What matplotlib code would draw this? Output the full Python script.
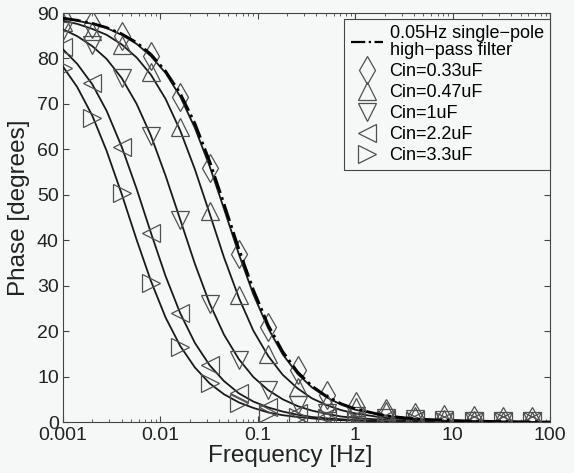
import matplotlib
matplotlib.use("Agg")
import matplotlib.pyplot as plt
from matplotlib.ticker import FixedLocator, FixedFormatter, LogLocator, NullFormatter

plt.rcParams['font.family'] = ['Liberation Sans', 'DejaVu Sans']

# ---- data ----
line_freq = [0.001, 0.0014, 0.002, 0.0028, 0.004, 0.0057, 0.008, 0.0113, 0.016, 0.0226,
             0.032, 0.045, 0.064, 0.09, 0.128, 0.18, 0.256, 0.36, 0.512, 0.72,
             1.0, 2.0, 4.0, 8.0, 16.0, 32.0, 64.0, 100.0]

ref_filter = [88.85, 88.4, 87.7, 86.8, 85.4, 83.5, 80.9, 77.2, 72.3, 65.7,
              57.4, 48.0, 38.0, 29.1, 21.3, 15.5, 11.0, 7.9, 5.6, 4.0,
              2.9, 1.4, 0.7, 0.4, 0.2, 0.1, 0.0, 0.0]
line_033 = [88.8, 88.3, 87.6, 86.7, 85.2, 83.2, 80.5, 76.8, 71.6, 64.7,
            56.3, 46.9, 36.9, 28.1, 20.6, 14.9, 10.6, 7.6, 5.4, 3.8,
            2.7, 1.4, 0.7, 0.3, 0.2, 0.1, 0.0, 0.0]
line_047 = [88.3, 87.6, 86.5, 85.2, 83.1, 80.2, 76.4, 71.1, 64.1, 55.6,
            45.9, 36.2, 27.3, 20.1, 14.5, 10.4, 7.4, 5.2, 3.7, 2.6,
            1.9, 0.9, 0.5, 0.2, 0.1, 0.1, 0.0, 0.0]
line_1 = [86.4, 84.9, 82.7, 79.9, 75.7, 70.0, 63.0, 54.2, 44.5, 34.8,
          26.1, 19.2, 13.8, 9.9, 7.0, 5.0, 3.5, 2.5, 1.8, 1.2,
          0.9, 0.45, 0.2, 0.1, 0.1, 0.0, 0.0, 0.0]
line_22 = [82.0, 78.8, 74.3, 68.5, 60.6, 51.3, 41.6, 32.1, 23.9, 17.4,
           12.5, 9.0, 6.3, 4.5, 3.2, 2.3, 1.6, 1.1, 0.8, 0.6,
           0.4, 0.2, 0.1, 0.0, 0.0, 0.0, 0.0, 0.0]
line_33 = [78.2, 73.7, 67.4, 59.7, 50.2, 40.1, 31.0, 23.0, 16.7, 12.0,
           8.5, 6.1, 4.3, 3.1, 2.1, 1.5, 1.1, 0.8, 0.5, 0.4,
           0.3, 0.1, 0.1, 0.0, 0.0, 0.0, 0.0, 0.0]

meas_freq = [0.001, 0.002, 0.004, 0.008, 0.016, 0.032, 0.064, 0.128, 0.256, 0.512,
             1.02, 2.05, 4.1, 8.2, 16.4, 32.8, 65.5]
meas_033 = [89, 87.5, 85, 80.5, 71.5, 56, 37, 21, 11.5, 6, 3.5, 2, 1.0, 0.6, 0.4, 0.3, 0.3]
meas_047 = [88, 86, 83, 77, 65, 46.5, 28, 15, 7.7, 4.2, 3.3, 2.4, 1.3, 0.7, 0.4, 0.3, 0.3]
meas_1 = [86, 83, 75.7, 63, 44.5, 26, 13.6, 7, 3.7, 2, 1.3, 0.9, 0.6, 0.4, 0.3, 0.3, 0.3]
meas_22 = [82.6, 74.6, 60.5, 41.6, 24, 12.5, 6.4, 3.3, 2, 1.2, 0.8, 0.6, 0.4, 0.3, 0.3, 0.3, 0.3]
meas_33 = [78, 67, 50.4, 30.6, 16.5, 8.6, 4.2, 2.0, 1.2, 0.8, 0.5, 0.4, 0.3, 0.3, 0.3, 0.3, 0.3]

labels = ['Cin=0.33uF', 'Cin=0.47uF', 'Cin=1uF', 'Cin=2.2uF', 'Cin=3.3uF']
ref_label = '0.05Hz single\u2212pole\nhigh\u2212pass filter'
markers = ['d', '^', 'v', '<', '>']
xtick_vals = [0.001, 0.01, 0.1, 1, 10, 100]
xtick_labels = ['0.001', '0.01', '0.1', '1', '10', '100']
ytick_vals = [0, 10, 20, 30, 40, 50, 60, 70, 80, 90]

# ---- figure ----
bg = '#f6f7f7'
fig = plt.figure(figsize=(5.74, 4.73), dpi=100, facecolor=bg)
ax = fig.add_axes([63 / 574, 51 / 473, 487 / 574, 409 / 473])
ax.set_facecolor(bg)

line_color = '#1a1a1a'
mk_color = '#505050'

for ys in [line_033, line_047, line_1, line_22, line_33]:
    ax.plot(line_freq, ys, '-', color=line_color, lw=1.3, zorder=3)

mk_sizes = [14, 12.5, 12.5, 12.5, 12.5]
for ys, lab, m, ms in zip([meas_033, meas_047, meas_1, meas_22, meas_33], labels, markers, mk_sizes):
    ax.plot(meas_freq, ys, linestyle='none', marker=m, ms=ms, mfc='none',
            mec=mk_color, mew=0.9, label=lab, zorder=4)

ax.plot(line_freq, ref_filter, '-.', color='black', lw=2.0, zorder=5, label=ref_label)

ax.set_xscale('log')
ax.set_xlim(0.001, 100)
ax.set_ylim(0, 90)
ax.xaxis.set_major_locator(FixedLocator(xtick_vals))
ax.xaxis.set_major_formatter(FixedFormatter(xtick_labels))
ax.xaxis.set_minor_locator(LogLocator(base=10, subs=range(2, 10), numticks=20))
ax.xaxis.set_minor_formatter(NullFormatter())
ax.set_yticks(ytick_vals)

ax.tick_params(which='both', direction='in', top=True, right=True, labelsize=14,
               color='#444444', labelcolor='#222222')
ax.tick_params(which='major', length=4)
ax.tick_params(which='minor', length=2.5)
ax.tick_params(axis='y', pad=3)
ax.tick_params(axis='x', pad=3.5)
for s in ax.spines.values():
    s.set_color('#444444')
    s.set_linewidth(0.8)

ax.set_xlabel('Frequency [Hz]', fontsize=17.5, color='#222222')
ax.set_ylabel('Phase [degrees]', fontsize=17.5, color='#222222')
ax.xaxis.set_label_coords(0.466, -0.057, transform=ax.transAxes)
ax.yaxis.set_label_coords(-0.09, 0.523, transform=ax.transAxes)
ax.xaxis.label.set_va('top')
ax.yaxis.label.set_va('center')

h, l = ax.get_legend_handles_labels()
order = [5, 0, 1, 2, 3, 4]
leg = ax.legend([h[i] for i in order], [l[i] for i in order], loc='upper right',
                bbox_to_anchor=(1.0, (422 - 19) / 409), fontsize=13, frameon=True,
                fancybox=False, edgecolor='#444444', facecolor=bg, framealpha=1,
                handlelength=1.8, handletextpad=0.35, borderpad=0.35,
                labelspacing=0.22, borderaxespad=0)
leg.get_frame().set_linewidth(0.8)
leg.get_texts()[0].set_linespacing(1.0)
leg.get_lines()[0].set_linewidth(1.6)

fig.savefig('out.png', dpi=100, facecolor=bg)
